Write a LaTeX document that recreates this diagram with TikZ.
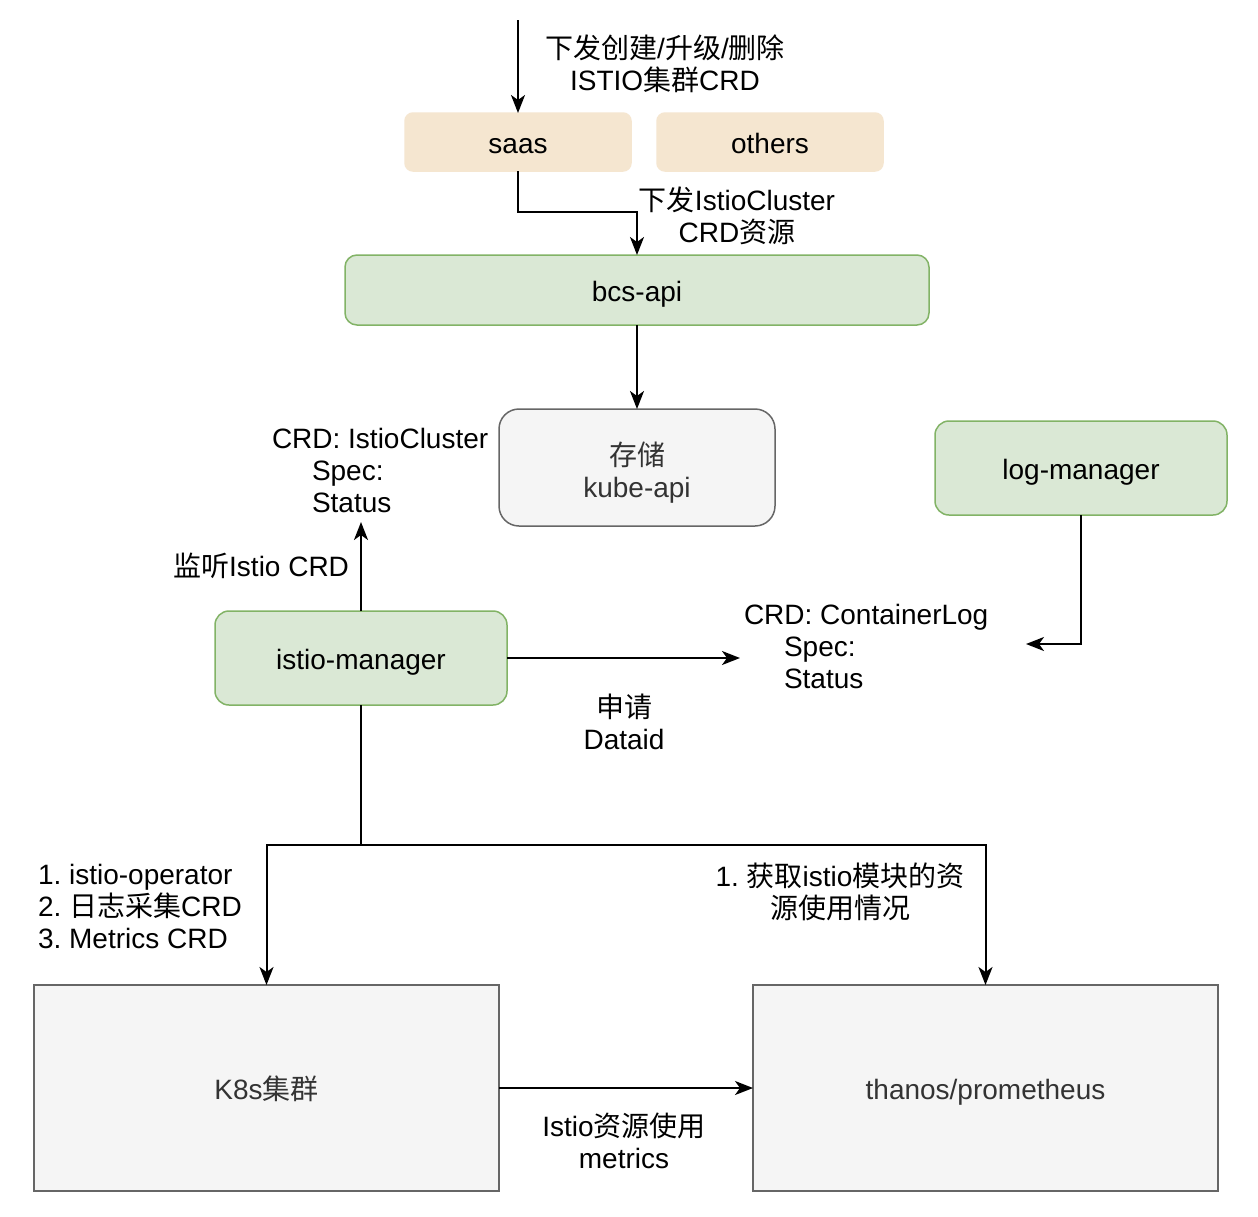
\documentclass[tikz,border=0pt]{standalone}
\usepackage{fontspec}
\setmainfont{Liberation Sans}
\newfontfamily\cjk{Noto Sans CJK SC}
\newcommand{\zh}[1]{{\cjk #1}}
\usetikzlibrary{arrows.meta}
\frenchspacing
\definecolor{beige}{HTML}{F5E6D0}
\definecolor{gfill}{HTML}{DAE8D5}
\definecolor{gline}{HTML}{82B366}
\definecolor{pfill}{HTML}{F5F5F5}
\definecolor{pline}{HTML}{666666}
\definecolor{ptext}{HTML}{333333}
\tikzset{
  base/.style={inner sep=0pt, outer sep=0pt, align=center},
  oneline/.style={text height=25pt, text depth=2pt},
  beigebox/.style={base, oneline, fill=beige, draw=beige, line width=1.5pt, rounded corners=8pt, minimum width=226pt, minimum height=58pt},
  greenbox/.style={base, oneline, fill=gfill, draw=gline, line width=1.5pt, rounded corners=12pt},
  graybox/.style={base, fill=pfill, draw=pline, line width=1.5pt, text=ptext},
  lbl/.style={inner sep=0pt, outer sep=0pt, align=center},
  conn/.style={line width=2pt, -{Stealth[length=18pt,width=14pt,inset=5pt]}},
  plain/.style={line width=2pt},
}
\begin{document}
\begin{tikzpicture}[x=1pt,y=-1pt,font=\fontsize{28}{32}\selectfont]
\useasboundingbox (0,0) rectangle (1258,1216);
\fill[white] (0,0) rectangle (1258,1216);

% boxes
\node[beigebox] (saas) at (518,142) {saas};
\node[beigebox] (others) at (770,142) {others};
\node[greenbox, minimum width=584pt, minimum height=70pt] (bcs) at (637,290) {bcs-api};
\node[graybox, rounded corners=20pt, minimum width=276pt, minimum height=117pt] (kube) at (637,467.5) {};
\node[lbl, text=ptext] (kubetxt) at (637,472.5) {\zh{存储}\\kube-api};
\node[greenbox, rounded corners=14pt, minimum width=292pt, minimum height=94pt] (im) at (361,658) {istio-manager};
\node[greenbox, rounded corners=14pt, minimum width=292pt, minimum height=94pt] (log) at (1081,468) {log-manager};
\node[graybox, oneline, minimum width=465pt, minimum height=206pt] (k8s) at (266.5,1088) {K8s\zh{集群}};
\node[graybox, oneline, minimum width=465pt, minimum height=206pt] (thanos) at (985.5,1088) {thanos/prometheus};

% labels
\node[lbl] (l1) at (665,64) {\zh{下发创建}/\zh{升级}/\zh{删除}\\ISTIO\zh{集群}CRD};
\node[lbl] (l2) at (737,216) {\zh{下发}IstioCluster\\CRD\zh{资源}};
\node[lbl, align=left, anchor=west] (crdic) at (272,470) {CRD: IstioCluster\\\hspace*{40pt}Spec:\\\hspace*{40pt}Status};
\node[lbl, anchor=east] (l3) at (349,566) {\zh{监听}Istio CRD};
\node[lbl, align=left, anchor=west] (crdlog) at (744,646) {CRD: ContainerLog\\\hspace*{40pt}Spec:\\\hspace*{40pt}Status};
\node[lbl] (l4) at (624,722) {\zh{申请}\\Dataid};
\node[lbl, align=left, anchor=west] (l5) at (38,906) {1. istio-operator\\2. \zh{日志采集}CRD\\3. Metrics CRD};
\node[lbl] (l6) at (840,892) {1. \zh{获取}istio\zh{模块的资}\\\zh{源使用情况}};
\node[lbl] (l7) at (624,1141) {Istio\zh{资源使用}\\metrics};

% connectors
\coordinate (top) at (518,20);
\draw[conn] (top) -- (saas.north);
\coordinate (bend1) at (518,212);
\draw[conn] (saas.south) -- (bend1) -| (bcs.north);
\draw[conn] (bcs.south) -- (kube.north);
\coordinate (icend) at (361,522);
\draw[conn] (im.north) -- (icend);
\coordinate (logend) at (1026,644);
\draw[conn] (log.south) |- (logend);
\coordinate (imend) at (740,658);
\draw[conn] (im.east) -- (imend);
\coordinate (j) at (361,845);
\draw[plain] (im.south) -- (j);
\draw[conn] (j) -| (k8s.north);
\draw[conn] (j) -| (thanos.north);
\draw[conn] (k8s.east) -- (thanos.west);
\end{tikzpicture}
\end{document}
